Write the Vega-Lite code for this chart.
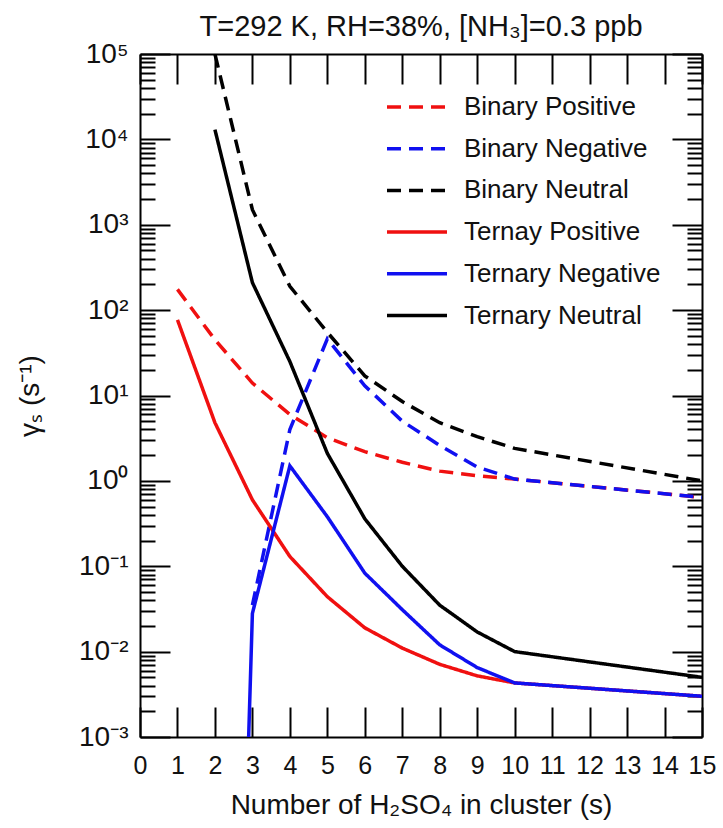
{
  "$schema": "https://vega.github.io/schema/vega-lite/v6.json",
  "width": 562,
  "height": 683,
  "autosize": {"type": "none"},
  "padding": {"left": 140, "top": 54, "right": 21, "bottom": 91},
  "background": "white",
  "title": {"text": "T=292 K, RH=38%, [NH₃]=0.3 ppb", "fontSize": 29, "font": "Liberation Sans", "fontWeight": "normal", "color": "#111", "offset": -2, "anchor": "middle"},
  "config": {
    "view": {"stroke": null},
    "axis": {"grid": false, "domainColor": "#000", "domainWidth": 2, "tickColor": "#000", "tickWidth": 2, "labelColor": "#111", "titleColor": "#111", "labelFont": "Liberation Sans", "titleFont": "Liberation Sans", "titleFontWeight": "normal", "labelFontSize": 25, "titleFontSize": 28, "labelOverlap": false, "labelBound": false, "labelFlush": false}
  },
  "datasets": {
    "curves": [
      {"s": 1, "v": 175, "series": "Binary Positive"},
      {"s": 2, "v": 45, "series": "Binary Positive"},
      {"s": 3, "v": 14, "series": "Binary Positive"},
      {"s": 4, "v": 6, "series": "Binary Positive"},
      {"s": 5, "v": 3.2, "series": "Binary Positive"},
      {"s": 6, "v": 2.2, "series": "Binary Positive"},
      {"s": 7, "v": 1.65, "series": "Binary Positive"},
      {"s": 8, "v": 1.3, "series": "Binary Positive"},
      {"s": 9, "v": 1.15, "series": "Binary Positive"},
      {"s": 10, "v": 1.05, "series": "Binary Positive"},
      {"s": 15, "v": 0.64, "series": "Binary Positive"},
      {"s": 3, "v": 0.035, "series": "Binary Negative"},
      {"s": 4, "v": 4, "series": "Binary Negative"},
      {"s": 5, "v": 46, "series": "Binary Negative"},
      {"s": 6, "v": 13, "series": "Binary Negative"},
      {"s": 7, "v": 5, "series": "Binary Negative"},
      {"s": 8, "v": 2.6, "series": "Binary Negative"},
      {"s": 9, "v": 1.45, "series": "Binary Negative"},
      {"s": 10, "v": 1.05, "series": "Binary Negative"},
      {"s": 15, "v": 0.64, "series": "Binary Negative"},
      {"s": 2, "v": 100000, "series": "Binary Neutral"},
      {"s": 3, "v": 1500, "series": "Binary Neutral"},
      {"s": 4, "v": 190, "series": "Binary Neutral"},
      {"s": 5, "v": 55, "series": "Binary Neutral"},
      {"s": 6, "v": 17, "series": "Binary Neutral"},
      {"s": 7, "v": 8.5, "series": "Binary Neutral"},
      {"s": 8, "v": 4.8, "series": "Binary Neutral"},
      {"s": 9, "v": 3.3, "series": "Binary Neutral"},
      {"s": 10, "v": 2.4, "series": "Binary Neutral"},
      {"s": 15, "v": 1.0, "series": "Binary Neutral"},
      {"s": 1, "v": 77, "series": "Ternay Positive"},
      {"s": 2, "v": 4.8, "series": "Ternay Positive"},
      {"s": 3, "v": 0.6, "series": "Ternay Positive"},
      {"s": 4, "v": 0.13, "series": "Ternay Positive"},
      {"s": 5, "v": 0.044, "series": "Ternay Positive"},
      {"s": 6, "v": 0.019, "series": "Ternay Positive"},
      {"s": 7, "v": 0.011, "series": "Ternay Positive"},
      {"s": 8, "v": 0.0071, "series": "Ternay Positive"},
      {"s": 9, "v": 0.0052, "series": "Ternay Positive"},
      {"s": 10, "v": 0.0043, "series": "Ternay Positive"},
      {"s": 15, "v": 0.003, "series": "Ternay Positive"},
      {"s": 2.9, "v": 0.001, "series": "Ternary Negative"},
      {"s": 3, "v": 0.028, "series": "Ternary Negative"},
      {"s": 4, "v": 1.5, "series": "Ternary Negative"},
      {"s": 5, "v": 0.38, "series": "Ternary Negative"},
      {"s": 6, "v": 0.083, "series": "Ternary Negative"},
      {"s": 7, "v": 0.031, "series": "Ternary Negative"},
      {"s": 8, "v": 0.012, "series": "Ternary Negative"},
      {"s": 9, "v": 0.0065, "series": "Ternary Negative"},
      {"s": 10, "v": 0.0043, "series": "Ternary Negative"},
      {"s": 15, "v": 0.003, "series": "Ternary Negative"},
      {"s": 2, "v": 13000, "series": "Ternary Neutral"},
      {"s": 3, "v": 210, "series": "Ternary Neutral"},
      {"s": 4, "v": 25, "series": "Ternary Neutral"},
      {"s": 5, "v": 2.1, "series": "Ternary Neutral"},
      {"s": 6, "v": 0.36, "series": "Ternary Neutral"},
      {"s": 7, "v": 0.1, "series": "Ternary Neutral"},
      {"s": 8, "v": 0.035, "series": "Ternary Neutral"},
      {"s": 9, "v": 0.017, "series": "Ternary Neutral"},
      {"s": 10, "v": 0.01, "series": "Ternary Neutral"},
      {"s": 15, "v": 0.005, "series": "Ternary Neutral"}
    ]
  },
  "data": {"name": "curves"},
  "layer": [
    {
      "mark": {"type": "line", "strokeWidth": 3.5, "clip": true},
      "encoding": {
        "x": {"field": "s", "type": "quantitative", "scale": {"domain": [0, 15], "nice": false, "zero": false},
          "axis": {"orient": "bottom", "values": [0,1,2,3,4,5,6,7,8,9,10,11,12,13,14,15], "tickSize": -30, "labelPadding": 46, "title": "Number of H₂SO₄ in cluster (s)", "titlePadding": 13}},
        "y": {"field": "v", "type": "quantitative", "scale": {"type": "log", "domain": [0.001, 100000], "nice": false},
          "axis": {"orient": "left",
            "values": [0.001,0.002,0.003,0.004,0.005,0.006,0.007,0.008,0.009,0.01,0.02,0.03,0.04,0.05,0.06,0.07,0.08,0.09,0.1,0.2,0.3,0.4,0.5,0.6,0.7,0.8,0.9,1,2,3,4,5,6,7,8,9,10,20,30,40,50,60,70,80,90,100,200,300,400,500,600,700,800,900,1000,2000,3000,4000,5000,6000,7000,8000,9000,10000,20000,30000,40000,50000,60000,70000,80000,90000,100000],
            "labelExpr": "abs(log(datum.value)/LN10 - round(log(datum.value)/LN10)) < 0.001 ? '10' + ['⁻³','⁻²','⁻¹','⁰','¹','²','³','⁴','⁵'][round(log(datum.value)/LN10)+3] : ''",
            "labelFontSize": 28,
            "tickSize": {"condition": {"test": "abs(log(datum.value)/LN10 - round(log(datum.value)/LN10)) < 0.001", "value": -30}, "value": -15},
            "labelPadding": 42,
            "title": "γₛ (s⁻¹)", "titlePadding": 34}},
        "color": {"field": "series", "type": "nominal",
          "scale": {"domain": ["Binary Positive","Binary Negative","Binary Neutral","Ternay Positive","Ternary Negative","Ternary Neutral"],
                    "range": ["#f01010","#1010f0","#000000","#f01010","#1010f0","#000000"]},
          "legend": {"title": null, "orient": "none", "legendX": 260, "legendY": 36, "symbolType": "M-2,0H2", "symbolSize": 900, "symbolStrokeWidth": 3.5, "labelFontSize": 26, "labelFont": "Liberation Sans", "labelColor": "#111", "labelOffset": 30, "labelLimit": 400, "rowPadding": 11.7}},
        "strokeDash": {"field": "series", "type": "nominal",
          "scale": {"domain": ["Binary Positive","Binary Negative","Binary Neutral","Ternay Positive","Ternary Negative","Ternary Neutral"],
                    "range": [[14,8],[14,8],[14,8],[1,0],[1,0],[1,0]]},
          "legend": {"title": null, "orient": "none", "legendX": 260, "legendY": 36, "symbolType": "M-2,0H2", "symbolSize": 900, "symbolStrokeWidth": 3.5, "labelFontSize": 26, "labelFont": "Liberation Sans", "labelColor": "#111", "labelOffset": 30, "labelLimit": 400, "rowPadding": 11.7}}
      }
    },
    {
      "mark": {"type": "point", "opacity": 0},
      "encoding": {
        "x": {"field": "s", "type": "quantitative", "scale": {"domain": [0, 15], "nice": false, "zero": false},
          "axis": {"orient": "top", "values": [0,1,2,3,4,5,6,7,8,9,10,11,12,13,14,15], "tickSize": -30, "labels": false, "title": null}},
        "y": {"field": "v", "type": "quantitative", "scale": {"type": "log", "domain": [0.001, 100000], "nice": false},
          "axis": {"orient": "right",
            "values": [0.001,0.002,0.003,0.004,0.005,0.006,0.007,0.008,0.009,0.01,0.02,0.03,0.04,0.05,0.06,0.07,0.08,0.09,0.1,0.2,0.3,0.4,0.5,0.6,0.7,0.8,0.9,1,2,3,4,5,6,7,8,9,10,20,30,40,50,60,70,80,90,100,200,300,400,500,600,700,800,900,1000,2000,3000,4000,5000,6000,7000,8000,9000,10000,20000,30000,40000,50000,60000,70000,80000,90000,100000],
            "labels": false,
            "tickSize": {"condition": {"test": "abs(log(datum.value)/LN10 - round(log(datum.value)/LN10)) < 0.001", "value": -30}, "value": -15},
            "title": null}}
      }
    }
  ],
  "resolve": {"scale": {"x": "independent", "y": "independent"}}
}
